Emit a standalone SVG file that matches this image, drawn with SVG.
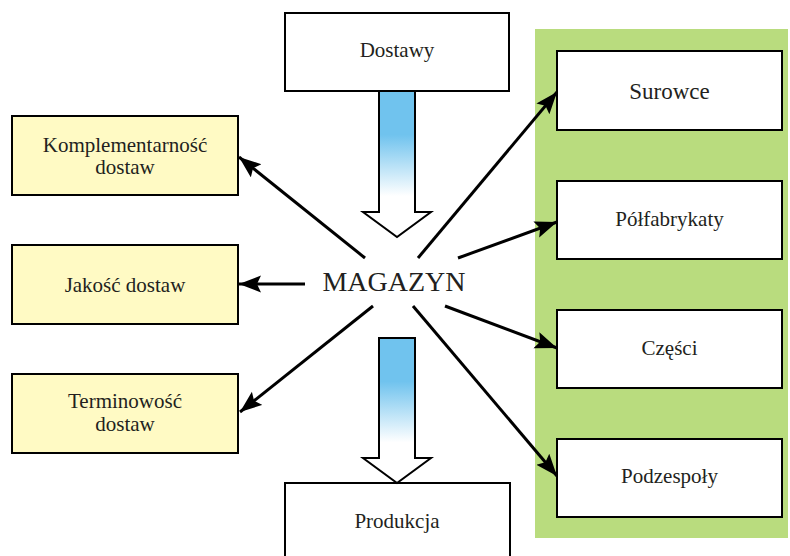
<svg xmlns="http://www.w3.org/2000/svg" width="790" height="556" viewBox="0 0 790 556">
<style>
text{font-family:"Liberation Serif","Times New Roman",serif;fill:#231F20;text-anchor:middle}
.box{fill:#fff;stroke:#000;stroke-width:2}
.ybox{fill:#FFFAC4;stroke:#000;stroke-width:2}
.conn line{stroke:#000;stroke-width:3;marker-end:url(#ah)}
.blk{fill:url(#bg);stroke:#000;stroke-width:2;stroke-linejoin:miter}
.t{font-size:21px}
</style>
<defs>
<marker id="ah" markerUnits="userSpaceOnUse" markerWidth="24" markerHeight="18" refX="22" refY="8.5" orient="auto">
<path d="M0,0 L22,8.5 L0,17 L4,8.5 Z" fill="#000"/>
</marker>
<linearGradient id="bg" x1="0" y1="0" x2="0" y2="1">
<stop offset="0" stop-color="#70C3EE"/>
<stop offset="0.3" stop-color="#70C3EE"/>
<stop offset="0.72" stop-color="#fff"/>
<stop offset="1" stop-color="#fff"/>
</linearGradient>
</defs>
<rect id="panel" x="535" y="29" width="253" height="509" fill="#B9DC7E"/>
<g id="dostawy"><rect class="box" x="285" y="13" width="224" height="78"/><text class="t" x="397" y="57">Dostawy</text></g>
<g id="produkcja"><rect class="box" x="285" y="483" width="225" height="90"/><text class="t" x="397" y="528">Produkcja</text></g>
<g id="magazyn"><text x="394" y="291" font-size="28">MAGAZYN</text></g>
<g id="komplementarnosc"><rect class="ybox" x="12" y="116" width="226" height="79"/><text class="t" x="125" y="152">Komplementarność</text><text class="t" x="125" y="174">dostaw</text></g>
<g id="jakosc"><rect class="ybox" x="12" y="245" width="226" height="79"/><text class="t" x="125" y="292">Jakość dostaw</text></g>
<g id="terminowosc"><rect class="ybox" x="12" y="374" width="226" height="79"/><text class="t" x="125" y="408">Terminowość</text><text class="t" x="125" y="431">dostaw</text></g>
<g id="surowce"><rect class="box" x="557" y="51" width="225" height="79"/><text x="669.5" y="99" font-size="23">Surowce</text></g>
<g id="polfabrykaty"><rect class="box" x="557" y="181" width="225" height="78"/><text class="t" x="669.5" y="226">Półfabrykaty</text></g>
<g id="czesci"><rect class="box" x="557" y="310" width="225" height="78"/><text class="t" x="669.5" y="355">Części</text></g>
<g id="podzespoly"><rect class="box" x="557" y="439" width="225" height="78"/><text class="t" x="669.5" y="483">Podzespoły</text></g>
<g id="connectors">
<polygon class="blk" points="379,91 415,91 415,212 431,212 397,237 363,212 379,212"/>
<polygon class="blk" points="379,338 415,338 415,458 431,458 397,483 363,458 379,458"/>
<g class="conn">
<line x1="365" y1="258" x2="239" y2="157"/>
<line x1="305" y1="284" x2="239" y2="284"/>
<line x1="373" y1="306" x2="240" y2="412"/>
<line x1="418" y1="258" x2="557" y2="92"/>
<line x1="458" y1="258" x2="557" y2="222"/>
<line x1="445" y1="306" x2="557" y2="348"/>
<line x1="413" y1="306" x2="557" y2="476"/>
</g>
</g>
</svg>
